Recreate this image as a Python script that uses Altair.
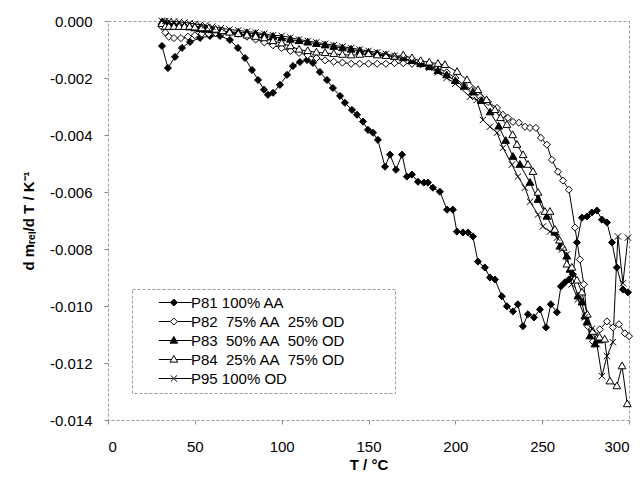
import altair as alt
import pandas as pd
import re

# ---- data (T in °C, dm_rel/dT in 1/K) ----
p81_T = [31.1, 34.5, 38.6, 42.6, 47.2, 53.0, 58.7, 64.5, 70.2, 74.8, 78.9, 82.9, 86.4, 89.8, 92.1, 95.0,
         99.0, 103.1, 106.5, 110.5, 114.6, 118.0, 122.0, 126.1, 129.5, 133.6, 136.4, 140.5, 143.4, 146.8,
         149.7, 152.6, 155.4, 159.5, 162.4, 165.8, 169.3, 172.1, 175.0, 178.5, 181.9, 184.2, 187.1, 191.1,
         195.2, 198.6, 200.9, 204.4, 207.3, 210.1, 213.0, 217.0, 219.9, 222.8, 226.8, 229.7, 233.2, 236.0,
         238.9, 241.8, 245.3, 248.7, 252.2, 255.0, 258.5, 260.8, 263.1, 265.4, 267.7, 270.0, 272.9, 275.8,
         278.6, 281.5, 284.4, 287.3, 290.2, 293.0, 296.5, 299.4]
p81_v = [-0.000875, -0.00165, -0.00126, -0.000945, -0.000735, -0.000595, -0.000525, -0.000525, -0.000665,
         -0.000945, -0.0013, -0.00172, -0.00207, -0.00241, -0.00259, -0.00252, -0.00224, -0.00189, -0.00158,
         -0.00144, -0.00137, -0.00147, -0.00179, -0.00207, -0.00235, -0.00263, -0.00287, -0.00312, -0.00329,
         -0.00353, -0.00382, -0.00392, -0.00417, -0.00511, -0.00469, -0.00522, -0.00469, -0.00546, -0.00539,
         -0.00564, -0.00567, -0.00567, -0.00585, -0.00599, -0.00662, -0.00662, -0.00739, -0.00742, -0.00742,
         -0.00756, -0.00844, -0.00865, -0.0090, -0.00907, -0.00966, -0.01001, -0.01019, -0.00994, -0.01071,
         -0.01029, -0.0104, -0.01012, -0.01075, -0.00994, -0.01022, -0.00931, -0.00917, -0.00907, -0.00889,
         -0.00777, -0.0069, -0.00686, -0.00672, -0.00665, -0.00697, -0.00707, -0.00777, -0.00865, -0.00942,
         -0.00952]

p82_T = [31, 33, 35, 38, 42, 46, 50, 54, 58, 62, 66, 70, 75, 80, 85, 90, 95, 100, 105, 110, 115, 120, 125,
         130, 135, 140, 145, 150, 155, 160, 165, 170, 175, 180, 185, 190, 195, 200, 205, 209.6, 214.2, 218.8,
         224.0, 227.4, 230.3, 233.2, 236.6, 240.1, 243.0, 246.4, 249.3, 252.7, 255.6, 259.1, 262.0, 265.4,
         268.9, 271.7, 274.0, 276.3, 279.2, 283.2, 287.3, 290.7, 294.2, 297.6, 300.0]
p82_v = [-0.0002, -0.0004, -0.00055, -0.0006, -0.0006, -0.00055, -0.0005, -0.00045, -0.00045, -0.00042,
         -0.0004, -0.0004, -0.00045, -0.00055, -0.00065, -0.00075, -0.00085, -0.00095, -0.00105, -0.00112,
         -0.0012, -0.0013, -0.00138, -0.00143, -0.00146, -0.0015, -0.0015, -0.0015, -0.0015, -0.0015,
         -0.00148, -0.00148, -0.0015, -0.00152, -0.0016, -0.00165, -0.0018, -0.0020, -0.00225, -0.00242,
         -0.00266, -0.00284, -0.00305, -0.00329, -0.0034, -0.00354, -0.00357, -0.00371, -0.00375, -0.00375,
         -0.0041, -0.00434, -0.00487, -0.00529, -0.0056, -0.00592, -0.00725, -0.00837, -0.00924, -0.01071,
         -0.01124, -0.01082, -0.01054, -0.01075, -0.01064, -0.01096, -0.01106]

p83_T = [31, 33, 35, 38, 41, 44, 47, 50, 53, 56, 60, 65, 70, 75, 80, 85, 90, 95, 100, 105, 110, 115, 120,
         125, 130, 135, 140, 145, 150, 155, 160, 165, 170, 175, 180, 185, 190, 195, 200, 205, 210, 215, 220,
         225, 229, 233.2, 237.2, 243.0, 247.6, 252.7, 257.3, 260.2, 264.2, 266.0, 270.6, 272.9, 274.6, 275.8,
         277.5, 280.4, 283.0]
p83_v = [-0.00005, -0.0001, -0.00012, -0.00015, -0.00018, -0.0002, -0.00022, -0.00025, -0.00028, -0.0003,
         -0.00032, -0.00035, -0.00038, -0.0004, -0.00042, -0.00045, -0.0005, -0.00055, -0.0006, -0.00065,
         -0.0007, -0.00075, -0.0008, -0.00085, -0.0009, -0.00095, -0.001, -0.00105, -0.0011, -0.00115,
         -0.0012, -0.00125, -0.0013, -0.0014, -0.0015, -0.0016, -0.00175, -0.0019, -0.0021, -0.0023,
         -0.0025, -0.0028, -0.0032, -0.0037, -0.0042, -0.00476, -0.00504, -0.00567, -0.00627, -0.00686,
         -0.00742, -0.00791, -0.00826, -0.00872, -0.00966, -0.00987, -0.01036, -0.01057, -0.01106, -0.01134,
         -0.0112]

p84_T = [31, 33, 35, 38, 41, 44, 47, 50, 54, 58, 62, 66, 70, 75, 80, 85, 90, 95, 100, 105, 110, 115, 120,
         125, 130, 135, 140, 145, 150, 155, 160, 165, 170, 175, 180, 185, 190, 194, 201, 206.7, 213, 218,
         222.8, 226, 229.7, 233, 235.5, 239, 241.8, 244.7, 247.6, 251.6, 254.5, 257.3, 260, 262, 264.2,
         267.1, 270, 272.9, 276, 279.2, 283, 286, 289, 293, 296, 299]
p84_v = [-0.0001, -0.0002, -0.0002, -0.0002, -0.0002, -0.0002, -0.0002, -0.00022, -0.00025, -0.00025,
         -0.0003, -0.00035, -0.0004, -0.00045, -0.0005, -0.00055, -0.0006, -0.0007, -0.00078, -0.00088,
         -0.001, -0.00105, -0.0011, -0.00112, -0.00115, -0.00118, -0.0012, -0.00118, -0.00115, -0.0012,
         -0.00122, -0.00125, -0.0012, -0.0013, -0.0014, -0.00145, -0.0015, -0.00154, -0.00178, -0.00207,
         -0.00242, -0.00277, -0.00312, -0.0034, -0.00364, -0.004, -0.00434, -0.0047, -0.00504, -0.00529,
         -0.00602, -0.00669, -0.00669, -0.00732, -0.0077, -0.00795, -0.00854, -0.00865, -0.0091, -0.00952,
         -0.0103, -0.0109, -0.0111, -0.01117, -0.01264, -0.01281, -0.01211, -0.01344]

p95_T = [31, 33, 35, 38, 41, 44, 47, 50, 53, 56, 60, 65, 70, 75, 80, 85, 90, 95, 100, 105, 110, 115, 120,
         125, 130, 135, 140, 145, 150, 155, 160, 165, 170, 175, 180, 185, 190, 195, 200, 208.4, 212.4, 215.9,
         219.9, 224.0, 227.4, 232.6, 236.0, 240.1, 243.0, 247.6, 250.4, 254.5, 258.5, 261.4, 264.2, 267.0,
         270.6, 274.6, 278.6, 281.5, 284.4, 287.3, 290.7, 293.6, 296.5, 299.4]
p95_v = [0.0, 0.0, 0.0, -0.00002, -0.00003, -0.00005, -0.00008, -0.0001, -0.00013, -0.00015, -0.0002,
         -0.00025, -0.0003, -0.00033, -0.00037, -0.0004, -0.00045, -0.0005, -0.00052, -0.00058, -0.00065,
         -0.0007, -0.00075, -0.0008, -0.00085, -0.0009, -0.00095, -0.001, -0.00105, -0.0011, -0.00115,
         -0.00122, -0.0013, -0.0014, -0.0015, -0.00165, -0.0018, -0.002, -0.0022, -0.00266, -0.00277,
         -0.00347, -0.00371, -0.00392, -0.00445, -0.00504, -0.00546, -0.00585, -0.00634, -0.00679, -0.00721,
         -0.00739, -0.0076, -0.00802, -0.00819, -0.00924, -0.00977, -0.0104, -0.0108, -0.01134, -0.01246,
         -0.01176, -0.01127, -0.00756, -0.0092, -0.0076]

series_names = ["P81 100% AA", "P82\u00a0 75% AA\u00a0 25% OD", "P83\u00a0 50% AA\u00a0 50% OD",
                "P84\u00a0 25% AA\u00a0 75% OD", "P95 100% OD"]
series_T = [p81_T, p82_T, p83_T, p84_T, p95_T]
series_v = [p81_v, p82_v, p83_v, p84_v, p95_v]

x_ticks = [0, 50, 100, 150, 200, 250, 300]
y_ticks = [-0.014, -0.012, -0.010, -0.008, -0.006, -0.004, -0.002, 0.0]

rows = []
for name, ts, vs in zip(series_names, series_T, series_v):
    for t, v in zip(ts, vs):
        rows.append({"series": name, "T": t, "v": v})
df = pd.DataFrame(rows)

# ---- marker shapes ----
DIAMOND = "M0,-1L1,0L0,1L-1,0Z"
TRI = "M0,-1.15L1.1,0.75L-1.1,0.75Z"
XMARK = "M-0.9,-0.9L0.9,0.9M-0.9,0.9L0.9,-0.9"
marker_paths = [DIAMOND, DIAMOND, TRI, TRI, XMARK]

C = 8.1   # marker offset inside legend symbol


def leg(marker, half, extra=""):
    def shift(m):
        return f"{float(m.group(1)) + C:.2f},{m.group(2)}"
    moved = re.sub(r"(-?\d+\.?\d*),(-?\d+\.?\d*)", shift, marker)
    return f"M{C-4.3:.2f},0H{C-half:.2f}M{C+half:.2f},0H{C+5.1:.2f}" + moved + extra


legend_paths = [leg(DIAMOND, 1, "M69,0"), leg(DIAMOND, 1), leg(TRI, 0.6), leg(TRI, 0.6), leg(XMARK, 0.3)]
fills = ["black", "white", "black", "white", "black"]
strokes = ["black"] * 5

FONT = "Liberation Sans"
xenc = alt.X("T:Q", scale=alt.Scale(domain=[0, 300], nice=False),
             axis=alt.Axis(values=x_ticks, title="T / °C", labelPadding=15, tickSize=4,
                           titlePadding=3))
yenc = alt.Y("v:Q", scale=alt.Scale(domain=[-0.014, 0], nice=False, zero=False),
             axis=alt.Axis(values=y_ticks, title="d mᵣₑₗ/d T / K⁻¹", tickSize=4, labelPadding=12,
                           titlePadding=13,
                           labelExpr="datum.value < -0.00001 ? '-' + format(-datum.value, '.3f') : format(0, '.3f')"))

base = alt.Chart(df)

lines = base.mark_line(color="black", strokeWidth=1).encode(
    x=xenc, y=yenc, detail="series:N", order="T:Q")

points = base.mark_point(stroke="black", strokeWidth=1, opacity=1, fillOpacity=1, size=50).encode(
    x="T:Q", y="v:Q",
    shape=alt.Shape("series:N", scale=alt.Scale(domain=series_names, range=marker_paths), legend=None),
    fill=alt.Fill("series:N", scale=alt.Scale(domain=series_names, range=fills), legend=None),
)

leg_opts = dict(title=None, orient="none", legendX=24, legendY=268)

legend_layer = base.mark_point(strokeWidth=1, opacity=0, size=50).encode(
    x="T:Q", y="v:Q",
    shape=alt.Shape("series:N", scale=alt.Scale(domain=series_names, range=legend_paths),
                    legend=alt.Legend(**leg_opts)),
    fill=alt.Fill("series:N", scale=alt.Scale(domain=series_names, range=fills),
                  legend=alt.Legend(**leg_opts)),
    stroke=alt.Stroke("series:N", scale=alt.Scale(domain=series_names, range=strokes),
                      legend=alt.Legend(**leg_opts)),
)

chart = alt.layer(lines, points, legend_layer).resolve_scale(
    shape="independent", fill="independent", stroke="independent"
).properties(
    width=521, height=399, autosize="none",
    padding={"left": 100, "top": 13, "right": 7, "bottom": 55},
).configure_view(
    stroke="#999999", strokeDash=[3, 2], strokeWidth=1
).configure_axis(
    domain=False, grid=False, tickColor="#888888",
    labelFont=FONT, labelFontSize=15, labelColor="black",
    titleFont=FONT, titleFontSize=15, titleFontWeight="bold", titleColor="black",
).configure_legend(
    padding=6, rowPadding=3, strokeColor="#999999", strokeDash=[3, 2], fillColor="white",
    labelFont=FONT, labelFontSize=15, labelColor="black",
    symbolSize=49, symbolStrokeWidth=1,
    symbolOpacity=1, labelOffset=38,
)

chart.save("out.html", embed_options={"renderer": "svg", "actions": False})
